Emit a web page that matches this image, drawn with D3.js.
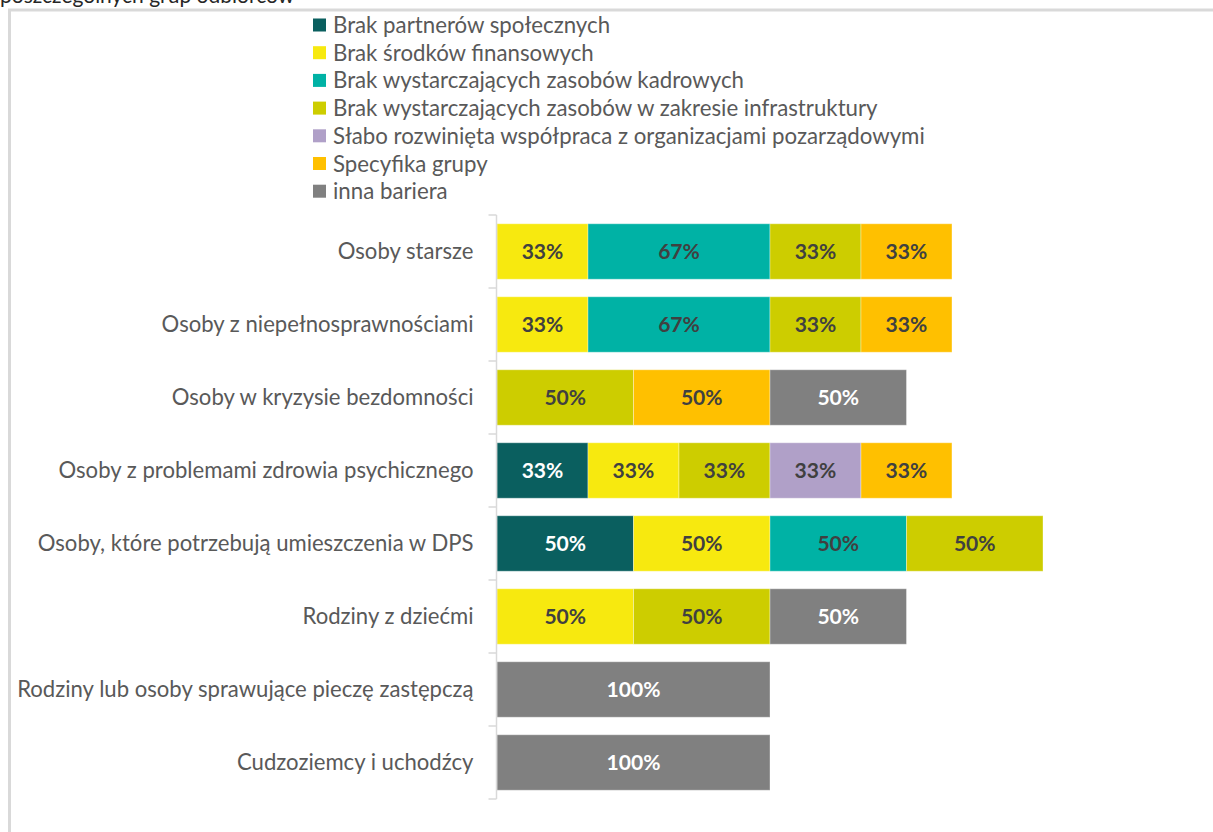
<!DOCTYPE html>
<html>
<head>
<meta charset="utf-8">
<script src="https://cdn.jsdelivr.net/npm/d3@7"></script>
<style>
	body { margin: 0; background: #fff; }
	svg text { font-family: Lato, "Open Sans", sans-serif; }
</style>
</head>
<body>
<div id="chart"></div>
<script>
/************ Data ************/
var categories = [
	"Osoby starsze",
	"Osoby z niepełnosprawnościami",
	"Osoby w kryzysie bezdomności",
	"Osoby z problemami zdrowia psychicznego",
	"Osoby, które potrzebują umieszczenia w DPS",
	"Rodziny z dziećmi",
	"Rodziny lub osoby sprawujące pieczę zastępczą",
	"Cudzoziemcy i uchodźcy"
];

var seriesNames = [
	"Brak partnerów społecznych",
	"Brak środków finansowych",
	"Brak wystarczających zasobów kadrowych",
	"Brak wystarczających zasobów w zakresie infrastruktury",
	"Słabo rozwinięta współpraca z organizacjami pozarządowymi",
	"Specyfika grupy",
	"inna bariera"
];

var seriesColors = ["#0a5f5f", "#f7e90f", "#00b2a5", "#cdcd00", "#b0a0c8", "#ffc000", "#808080"];
var labelColors  = ["#ffffff", "#404040", "#404040", "#404040", "#404040", "#404040", "#ffffff"];

// percent of respondents per category, one array per series (same order as categories)
var partnerValues   = [0, 0, 0, 33.33, 50, 0, 0, 0];
var financeValues   = [33.33, 33.33, 0, 33.33, 50, 50, 0, 0];
var staffValues     = [66.67, 66.67, 0, 0, 50, 0, 0, 0];
var infraValues     = [33.33, 33.33, 50, 33.33, 50, 50, 0, 0];
var ngoValues       = [0, 0, 0, 33.33, 0, 0, 0, 0];
var specificValues  = [33.33, 33.33, 50, 33.33, 0, 0, 0, 0];
var otherValues     = [0, 0, 50, 0, 0, 50, 100, 100];

var titleText = "poszczególnych grup odbiorców";

/************ Layout ************/
var width = 1213, height = 832;
var plotLeft = 497, plotTop = 215, plotBottom = 799;
var pxPerPct = 2.73;
var textColor = "#595959";

var seriesValues = [partnerValues, financeValues, staffValues, infraValues, ngoValues, specificValues, otherValues];

var rows = categories.map(function(c, i) {
	var r = { category: c };
	seriesNames.forEach(function(s, j) { r[s] = seriesValues[j][i]; });
	return r;
});

var stacked = d3.stack().keys(seriesNames)(rows);

var svg = d3.select("#chart").append("svg")
	.attr("width", width)
	.attr("height", height);

// outer frame of the chart area
svg.append("path")
	.attr("d", "M9.5," + height + "V10H" + width)
	.attr("fill", "none")
	.attr("stroke", "#d9d9d9")
	.attr("stroke-width", 3);

// cut-off title (the top of the original is cropped)
svg.append("text")
	.attr("x", 0)
	.attr("y", 3)
	.attr("fill", "#262626")
	.attr("font-size", 21)
	.text(titleText);

var x = d3.scaleLinear()
	.domain([0, 200])
	.range([plotLeft, plotLeft + 200 * pxPerPct]);

var y = d3.scaleBand()
	.domain(categories)
	.range([plotTop, plotBottom])
	.paddingInner(0.24)
	.paddingOuter(0.12);

// bars
var layers = svg.append("g").selectAll("g")
	.data(stacked)
	.enter().append("g")
		.attr("fill", function(d, i) { return seriesColors[i]; });

layers.selectAll("rect")
	.data(function(d) { return d.filter(function(p) { return p[1] - p[0] > 0; }); })
	.enter().append("rect")
		.attr("x", function(d) { return x(d[0]); })
		.attr("y", function(d) { return y(d.data.category); })
		.attr("width", function(d) { return x(d[1]) - x(d[0]); })
		.attr("height", y.bandwidth())
		.attr("stroke", "#ffffff")
		.attr("stroke-opacity", 0.35)
		.attr("stroke-width", 1);

// data labels
layers.each(function(layer, i) {
	d3.select(this).selectAll("text")
		.data(layer.filter(function(p) { return p[1] - p[0] > 0; }))
		.enter().append("text")
			.attr("class", "value-label")
			.attr("x", function(d) { return (x(d[0]) + x(d[1])) / 2; })
			.attr("y", function(d) { return y(d.data.category) + y.bandwidth() / 2; })
			.attr("dy", "0.36em")
			.attr("text-anchor", "middle")
			.attr("font-weight", "bold")
			.attr("fill", labelColors[i])
			.text(function(d) { return Math.round(d[1] - d[0]) + "%"; });
});

// y axis
var yAxis = svg.append("g")
	.attr("transform", "translate(" + (plotLeft - 0.5) + ",0)")
	.call(d3.axisLeft(y).tickSize(0).tickPadding(23));
yAxis.select(".domain")
	.attr("stroke", "#d9d9d9")
	.attr("stroke-width", 1.5)
	.attr("d", "M0," + plotTop + "V" + plotBottom);
yAxis.selectAll(".tick text")
	.attr("class", "cat-label")
	.attr("fill", textColor)
	.attr("dy", "0.36em");

// tick marks between categories
var bounds = categories.map(function(c) { return y(c) - y.step() * y.paddingInner() / 2; });
bounds.push(plotBottom);
yAxis.selectAll(".sep")
	.data(bounds)
	.enter().append("line")
		.attr("x1", -8).attr("x2", 0)
		.attr("y1", function(d) { return d; })
		.attr("y2", function(d) { return d; })
		.attr("stroke", "#d9d9d9")
		.attr("stroke-width", 1.5);

// legend
var legend = svg.append("g").attr("transform", "translate(313,25)");
var legendItems = legend.selectAll("g")
	.data(seriesNames)
	.enter().append("g")
		.attr("transform", function(d, i) { return "translate(0," + (i * 27.7) + ")"; });
legendItems.append("rect")
	.attr("x", 0).attr("y", -6.5)
	.attr("width", 13).attr("height", 13)
	.attr("fill", function(d, i) { return seriesColors[i]; });
legendItems.append("text")
	.attr("class", "legend-label")
	.attr("x", 20)
	.attr("dy", "0.36em")
	.attr("fill", textColor)
	.text(function(d) { return d; });

// fit font sizes to the widths measured on the original
function fitSize(selection, sample, targetWidth, weight) {
	var probe = svg.append("text").attr("font-size", 100).attr("font-weight", weight).text(sample);
	var w = probe.node().getComputedTextLength();
	probe.remove();
	selection.attr("font-size", 100 * targetWidth / w);
}
fitSize(svg.selectAll(".cat-label"), "Osoby, które potrzebują umieszczenia w DPS", 436, "normal");
fitSize(svg.selectAll(".legend-label"), "Słabo rozwinięta współpraca z organizacjami pozarządowymi", 592, "normal");
fitSize(svg.selectAll(".value-label"), "100%", 54, "bold");
</script>
</body>
</html>
